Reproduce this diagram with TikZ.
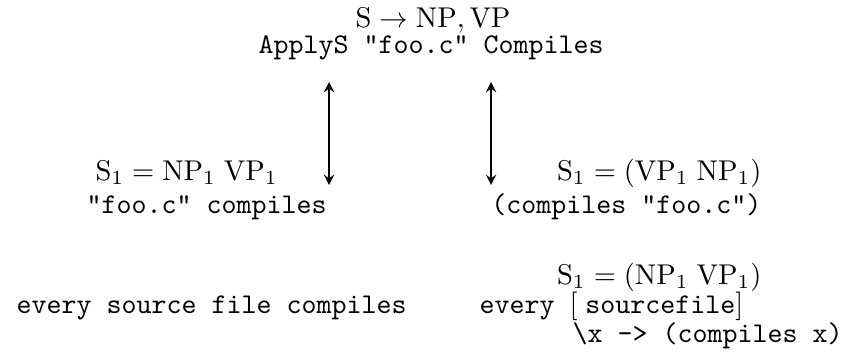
\documentclass[tikz,border=0pt]{standalone}
\begin{document}
\begin{tikzpicture}[x=0.35pt,y=-0.35pt,
  txt/.style={inner sep=0pt,font=\ttfamily},
  arr/.style={<->,>=stealth,semithick}]
\useasboundingbox (0,0) rectangle (842,352);
\node[txt,anchor=base] (top1) at (433,28) {$\mathrm{S}\rightarrow\mathrm{NP},\mathrm{VP}$};
\node[txt,anchor=base west] (top2) at (258,54) {ApplyS "foo.c" Compiles};
\node[txt,anchor=base west] (l1) at (95,180) {$\mathrm{S}_1=\mathrm{NP}_1\;\mathrm{VP}_1$};
\node[txt,anchor=base west] (l2) at (86,213) {"foo.c" compiles};
\node[txt,anchor=base east] (r1) at (762,180) {$\mathrm{S}_1=(\mathrm{VP}_1\;\mathrm{NP}_1)$};
\node[txt,anchor=base east] (r2) at (762,213) {(compiles "foo.c")};
\node[txt,anchor=base east] (b1) at (762,284) {$\mathrm{S}_1=(\mathrm{NP}_1\;\mathrm{VP}_1)$};
\node[txt,anchor=base west] (b2) at (16,313) {every source file compiles};
\node[txt,anchor=base west] (b3) at (479,313) {every $[\;$sourcefile$]$};
\node[txt,anchor=base west] (b4) at (572,342) {\textbackslash x -> (compiles x)};
\coordinate (a1t) at (329,82);
\coordinate (a1b) at (329,185);
\coordinate (a2t) at (491,82);
\coordinate (a2b) at (491,185);
\draw[arr] (a1t) -- (a1b);
\draw[arr] (a2t) -- (a2b);
\end{tikzpicture}
\end{document}
